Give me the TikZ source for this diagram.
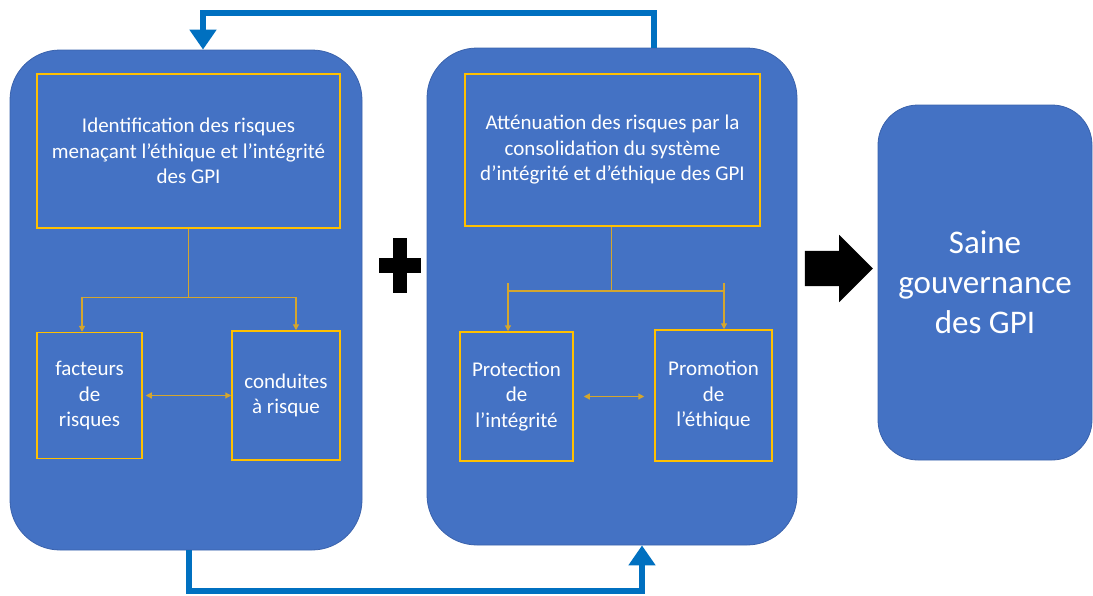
\documentclass[tikz,border=0pt]{standalone}
\usepackage{fontspec}
\setmainfont{Carlito}
\usetikzlibrary{calc,positioning,arrows.meta,fit,shapes}
\definecolor{boxblue}{HTML}{4472C4}
\definecolor{boxedge}{HTML}{3A62AC}
\definecolor{gold}{HTML}{FFC000}
\definecolor{linkgold}{HTML}{D4A62E}
\definecolor{loopblue}{HTML}{0070C0}

\begin{document}
\begin{tikzpicture}[x=1pt,y=-1pt,
  bloc/.style={fill=boxblue,draw=boxedge,line width=.8pt,rounded corners=50pt,inner sep=0pt},
  ele/.style={draw=gold,line width=1.5pt,text=white,align=center,inner sep=0pt,font=\fontsize{21}{25.5}\selectfont},
  lien/.style={draw=linkgold,line width=1.2pt},
  fleche/.style={lien,-{Triangle[length=6pt,width=6pt]}},
  deuxsens/.style={lien,{Triangle[length=6pt,width=6pt]}-{Triangle[length=6pt,width=6pt]}},
  boucle/.style={draw=loopblue,line width=6pt,-{Triangle[length=20pt,width=26pt]}}]
  \useasboundingbox (0,0) rectangle (1093,595);
  \node[bloc,minimum width=352pt,minimum height=500pt] (b1) at (186,300) {};
  \node[bloc,minimum width=370pt,minimum height=497pt] (b2) at (612,296.5) {};
  \node[bloc,rounded corners=40pt,minimum width=214pt,minimum height=355pt,text=white,align=center,font=\fontsize{33}{40}\selectfont] (saine) at (985,282.5) {Saine\\gouvernance\\des GPI};

  \node[ele,minimum width=303pt,minimum height=154pt] (ident) at (188.5,151) {Identification des risques\\menaçant l’éthique et l’intégrité\\des GPI};
  \node[ele,minimum width=105pt,minimum height=126pt] (facteurs) at (89.5,395.5) {facteurs\\de\\risques};
  \node[ele,minimum width=108pt,minimum height=129pt] (conduites) at (286,395.5) {conduites\\à risque};

  \node[ele,minimum width=295pt,minimum height=152pt] (attenu) at (612.5,150) {Atténuation des risques par la\\consolidation du système\\d’intégrité et d’éthique des GPI};
  \node[ele,minimum width=113pt,minimum height=129pt] (protection) at (516.5,396.5) {Protection\\de\\l’intégrité};
  \node[ele,minimum width=117pt,minimum height=131pt] (promotion) at (713.5,395.5) {Promotion\\de\\l’éthique};

  \draw[lien] (ident.south) -- ++(0,69) coordinate (idbar);
  \draw[fleche] (idbar) -| ([xshift=-7.5pt]facteurs.north);
  \draw[fleche] (idbar) -| ([xshift=10pt]conduites.north);
  \draw[deuxsens,shorten <=3pt] (facteurs.east) -- (conduites.west);

  \coordinate (atbar) at (611.5,291);
  \coordinate (tg) at (508,283);
  \coordinate (td) at (724,283);
  \draw[lien] (attenu.south -| atbar) -- (atbar);
  \draw[lien] (tg |- atbar) -- (td |- atbar);
  \draw[fleche] (tg) -- (tg |- protection.north);
  \draw[fleche] (td) -- (td |- promotion.north);
  \draw[deuxsens,shorten <=10pt,shorten >=10pt] (protection.east) -- (protection.east -| promotion.west);

  \coordinate (plus) at (400,265.5);
  \fill (plus) ++(-7,-27.5) rectangle ++(14,55);
  \fill (plus) ++(-21,-7.5) rectangle ++(42,15);
  \node[single arrow,fill=black,inner xsep=0pt,inner ysep=17.5pt,minimum height=68pt,single arrow head extend=16pt] (donc) at (830,268.5) {};

  \draw[boucle] ([xshift=42pt]b2.north) -- ++(0,-35) -| ([xshift=17pt]b1.north);
  \draw[boucle] ([xshift=3pt]b1.south) -- ++(0,41) -| ([xshift=30pt]b2.south);
\end{tikzpicture}
\end{document}
